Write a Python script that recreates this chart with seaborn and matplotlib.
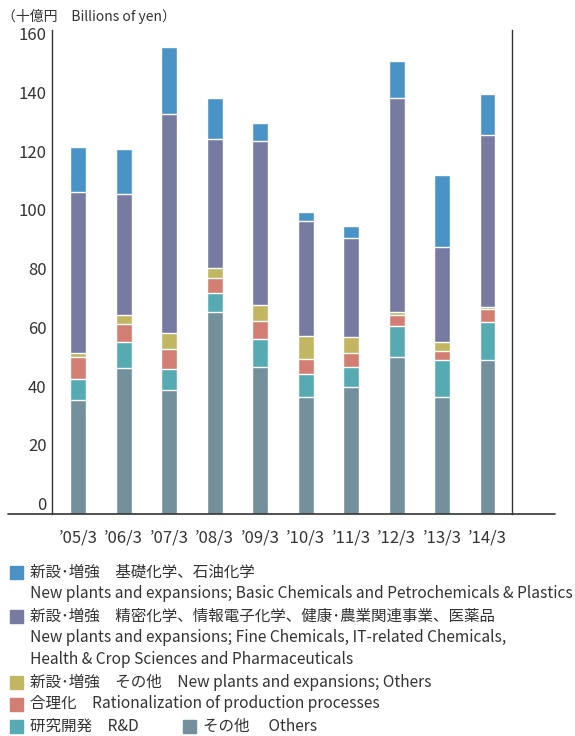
import numpy as np
import pandas as pd
import seaborn as sns
import matplotlib.pyplot as plt
from matplotlib.lines import Line2D
from matplotlib.patches import Rectangle

# ── Data (billions of yen) ────────────────────────────────────────────────────
years = ["’05/3", "’06/3", "’07/3", "’08/3", "’09/3",
         "’10/3", "’11/3", "’12/3", "’13/3", "’14/3"]
others = [38.9, 49.6, 42.3, 68.9, 50.0, 39.9, 43.3, 53.4, 39.8, 52.4]
rnd = [7.1, 9.0, 7.1, 6.5, 9.6, 7.7, 6.8, 10.6, 12.7, 13.0]
rationalization = [7.3, 6.1, 6.8, 5.0, 6.0, 5.2, 4.7, 3.8, 3.1, 4.5]
new_others = [1.4, 3.0, 5.4, 3.3, 5.6, 7.7, 5.5, 1.1, 2.9, 0.6]
new_fine = [54.8, 41.2, 74.6, 43.9, 55.8, 39.3, 33.6, 72.8, 32.4, 58.5]
new_basic = [15.5, 15.3, 22.7, 14.0, 6.3, 2.9, 4.1, 12.5, 24.5, 14.0]

y_ticks = [0, 20, 40, 60, 80, 100, 120, 140, 160]
unit_label = "（十億円　Billions of yen）"

legend_labels = [
    ["新設･増強　基礎化学、石油化学",
     "New plants and expansions; Basic Chemicals and Petrochemicals & Plastics"],
    ["新設･増強　精密化学、情報電子化学、健康･農業関連事業、医薬品",
     "New plants and expansions; Fine Chemicals, IT-related Chemicals,",
     "Health & Crop Sciences and Pharmaceuticals"],
    ["新設･増強　その他　New plants and expansions; Others"],
    ["合理化　Rationalization of production processes"],
    ["研究開発　R&D"],
    ["その他　 Others"],
]

# bottom -> top stacking order
series = [others, rnd, rationalization, new_others, new_fine, new_basic]
colors = ["#73909C", "#56ABB3", "#D27E72", "#C2B662", "#777BA1", "#4A93C6"]
legend_colors = ["#4A93C6", "#777BA1", "#C2B662", "#D27E72", "#56ABB3", "#73909C"]

# ── Style ─────────────────────────────────────────────────────────────────────
sns.set_theme(style="white")
plt.rcParams["font.family"] = ["Noto Sans CJK JP", "DejaVu Sans"]
TXT = "#333333"

W, H = 575, 736
fig = plt.figure(figsize=(W / 100, H / 100), dpi=100)
ax = fig.add_axes([52 / W, 222 / H, 460 / W, 484 / H])

# ── Stacked bars: draw cumulative totals, tallest first ──────────────────────
df = pd.DataFrame(np.array(series).T, index=years)
cum = df.cumsum(axis=1)
for i in reversed(range(len(series))):
    sns.barplot(x=years, y=cum[i].values, color=colors[i], saturation=1,
                width=0.35, edgecolor="white", linewidth=1.0, ax=ax,
                order=years)

ax.set_xlim(-0.58, 9.54)
ax.set_ylim(0, 164.8)
ax.set_yticks(y_ticks)
ax.set_yticklabels([str(t) for t in y_ticks])
for lab in ax.get_yticklabels():
    lab.set_verticalalignment("bottom")
ax.tick_params(axis="y", length=0, pad=4, labelsize=12, labelcolor=TXT)
ax.tick_params(axis="x", length=0, pad=11, labelsize=12, labelcolor=TXT)
ax.set_xlabel("")
ax.set_ylabel("")

for side in ["top", "bottom"]:
    ax.spines[side].set_visible(False)
for side in ["left", "right"]:
    ax.spines[side].set_color("#333333")
    ax.spines[side].set_linewidth(1.0)

# extended baseline
fig.add_artist(Line2D([8 / W, 555 / W], [1 - 514 / H, 1 - 514 / H],
                      color="#333333", linewidth=1.2))

fig.text(2 / W, 1 - 16 / H, unit_label, fontsize=10, color=TXT,
         va="center", ha="left")

# ── Legend (manual) ───────────────────────────────────────────────────────────
row_y = 572
step = 22
fs = 11.2
for k, (lines, c) in enumerate(zip(legend_labels, legend_colors)):
    if k == 5:
        continue
    fig.add_artist(Rectangle((10 / W, 1 - (row_y + 6.5) / H), 13 / W, 13 / H,
                             color=c, transform=fig.transFigure))
    for line in lines:
        fig.text(30 / W, 1 - row_y / H, line, fontsize=fs, color=TXT,
                 va="center", ha="left")
        row_y += step
# last entry shares the row with R&D
last_y = row_y - step
fig.add_artist(Rectangle((183 / W, 1 - (last_y + 6.5) / H), 13 / W, 13 / H,
                         color=legend_colors[5], transform=fig.transFigure))
fig.text(203 / W, 1 - last_y / H, legend_labels[5][0], fontsize=fs, color=TXT,
         va="center", ha="left")

plt.savefig("out.png", dpi=100)
